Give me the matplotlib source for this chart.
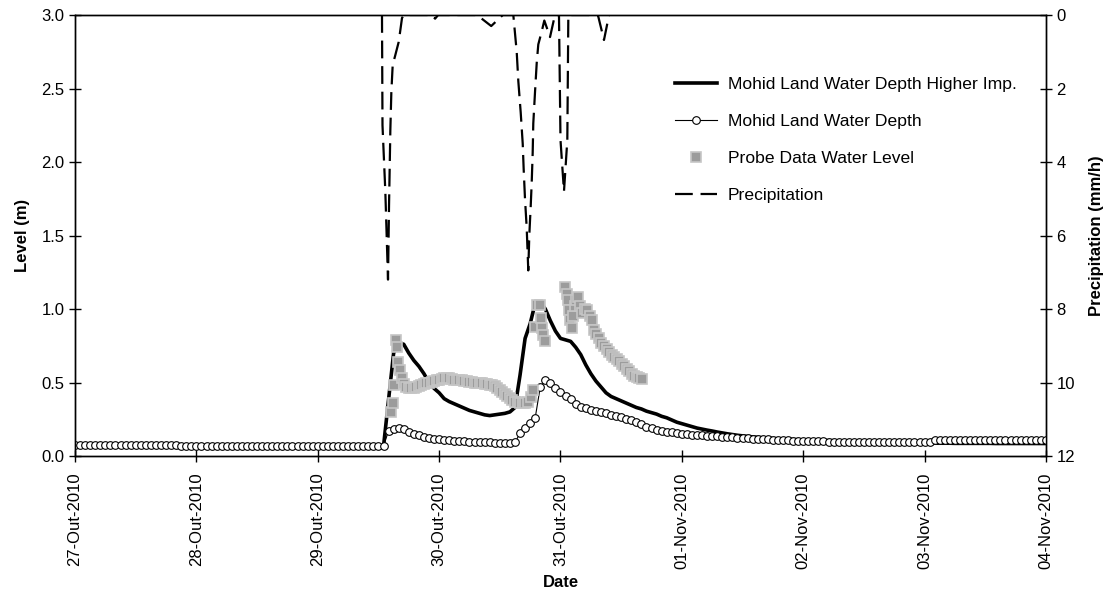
"""
Water level vs. precipitation, 27-Oct to 04-Nov 2010
"""

import matplotlib

matplotlib.use("Agg")
import matplotlib.pyplot as plt
import numpy as np
import pandas as pd
from matplotlib.lines import Line2D

plt.rcParams["font.family"] = ["Liberation Sans", "DejaVu Sans"]

# Time origin of the series
start = pd.Timestamp("2010-10-27 00:00")

day_labels = [
    "27-Out-2010", "28-Out-2010", "29-Out-2010", "30-Out-2010", "31-Out-2010",
    "01-Nov-2010", "02-Nov-2010", "03-Nov-2010", "04-Nov-2010",
]

# Hourly model output (m), one row per half day
depth_higher_imp = [
    0.075, 0.075, 0.075, 0.075, 0.075, 0.075, 0.075, 0.075, 0.075, 0.075, 0.075, 0.075,
    0.075, 0.075, 0.075, 0.075, 0.075, 0.075, 0.075, 0.075, 0.075, 0.07, 0.065, 0.065,
    0.065, 0.065, 0.065, 0.065, 0.065, 0.065, 0.065, 0.065, 0.065, 0.065, 0.065, 0.065,
    0.065, 0.065, 0.065, 0.065, 0.065, 0.065, 0.065, 0.065, 0.065, 0.065, 0.065, 0.065,
    0.065, 0.065, 0.065, 0.065, 0.065, 0.065, 0.065, 0.065, 0.065, 0.065, 0.065, 0.065,
    0.065, 0.065, 0.38, 0.70, 0.77, 0.76, 0.70, 0.65, 0.61, 0.56, 0.50, 0.46,
    0.43, 0.39, 0.37, 0.355, 0.34, 0.325, 0.31, 0.30, 0.29, 0.28, 0.275, 0.28,
    0.285, 0.29, 0.30, 0.33, 0.55, 0.80, 0.90, 1.04, 1.05, 1.00, 0.92, 0.85,
    0.80, 0.79, 0.78, 0.74, 0.69, 0.62, 0.56, 0.51, 0.47, 0.43, 0.405, 0.39,
    0.375, 0.36, 0.345, 0.33, 0.32, 0.305, 0.295, 0.285, 0.27, 0.26, 0.245, 0.23,
    0.22, 0.21, 0.20, 0.19, 0.183, 0.176, 0.17, 0.163, 0.157, 0.151, 0.146, 0.141,
    0.137, 0.133, 0.13, 0.127, 0.124, 0.121, 0.119, 0.117, 0.115, 0.113, 0.112, 0.111,
    0.110, 0.109, 0.108, 0.107, 0.106, 0.105, 0.104, 0.103, 0.102, 0.101, 0.100, 0.099,
    0.098, 0.097, 0.096, 0.095, 0.094, 0.093, 0.092, 0.091, 0.090, 0.089, 0.088, 0.087,
    0.087, 0.087, 0.087, 0.087, 0.087, 0.087, 0.086, 0.086, 0.086, 0.086, 0.086, 0.086,
    0.086, 0.086, 0.085, 0.085, 0.085, 0.085, 0.085, 0.085, 0.085, 0.085, 0.085, 0.085,
    0.085,
]

depth = [
    0.075, 0.075, 0.075, 0.075, 0.075, 0.075, 0.075, 0.075, 0.075, 0.075, 0.075, 0.075,
    0.075, 0.075, 0.075, 0.075, 0.075, 0.075, 0.075, 0.075, 0.075, 0.07, 0.065, 0.065,
    0.065, 0.065, 0.065, 0.065, 0.065, 0.065, 0.065, 0.065, 0.065, 0.065, 0.065, 0.065,
    0.065, 0.065, 0.065, 0.065, 0.065, 0.065, 0.065, 0.065, 0.065, 0.065, 0.065, 0.065,
    0.065, 0.065, 0.065, 0.065, 0.065, 0.065, 0.065, 0.065, 0.065, 0.065, 0.065, 0.065,
    0.065, 0.07, 0.17, 0.185, 0.19, 0.185, 0.16, 0.15, 0.14, 0.13, 0.12, 0.118,
    0.115, 0.11, 0.108, 0.105, 0.103, 0.10, 0.098, 0.097, 0.095, 0.093, 0.092, 0.09,
    0.09, 0.09, 0.09, 0.092, 0.155, 0.19, 0.225, 0.26, 0.47, 0.515, 0.50, 0.465,
    0.435, 0.41, 0.385, 0.355, 0.335, 0.325, 0.315, 0.305, 0.30, 0.29, 0.28, 0.275,
    0.265, 0.255, 0.245, 0.23, 0.215, 0.20, 0.19, 0.18, 0.172, 0.165, 0.16, 0.155,
    0.152, 0.149, 0.146, 0.143, 0.14, 0.138, 0.135, 0.133, 0.131, 0.129, 0.127, 0.125,
    0.123, 0.121, 0.119, 0.117, 0.115, 0.113, 0.111, 0.11, 0.108, 0.107, 0.105, 0.104,
    0.103, 0.102, 0.101, 0.10, 0.099, 0.098, 0.097, 0.097, 0.096, 0.096, 0.095, 0.095,
    0.095, 0.094, 0.094, 0.094, 0.093, 0.093, 0.093, 0.093, 0.093, 0.093, 0.093, 0.093,
    0.093, 0.093, 0.11, 0.11, 0.11, 0.11, 0.11, 0.11, 0.11, 0.11, 0.11, 0.11,
    0.11, 0.11, 0.11, 0.11, 0.11, 0.11, 0.11, 0.11, 0.11, 0.11, 0.11, 0.11,
    0.11,
]

# Probe readings: hours after start, level (m)
probe_hours = [
    62.5, 62.8, 63.0, 63.4, 63.6, 63.9, 64.2, 64.6, 65.0, 65.5, 66.0, 66.5,
    67.0, 67.5, 68.0, 68.5, 69.0, 69.5, 70.0, 70.5, 71.0, 71.5, 72.0, 72.5,
    73.0, 73.5, 74.0, 74.5, 75.0, 75.5, 76.0, 76.5, 77.0, 77.5, 78.0, 78.5,
    79.0, 79.5, 80.0, 80.5, 81.0, 81.5, 82.0, 82.5, 83.0, 83.5, 84.0, 84.5,
    85.0, 85.5, 86.0, 86.5, 87.0, 87.5, 88.0, 88.5, 89.0, 89.5, 90.2, 90.5,
    91.0, 91.4, 91.9, 92.1, 92.3, 92.6, 92.9,
    96.9, 97.2, 97.5, 97.7, 97.9, 98.2, 98.5, 98.8, 99.1, 99.5, 99.8, 100.3,
    100.8, 101.3, 101.8, 102.2, 102.6, 103.1, 103.6, 104.1, 104.6, 105.1, 105.6, 106.1,
    106.6, 107.1, 107.6, 108.1, 108.6, 109.1, 109.6, 110.1, 110.6, 111.1, 111.6, 112.1,
]
probe_level = [
    0.30, 0.36, 0.48, 0.79, 0.74, 0.64, 0.585, 0.53, 0.49, 0.47, 0.46, 0.46,
    0.465, 0.47, 0.475, 0.48, 0.49, 0.495, 0.50, 0.505, 0.51, 0.515, 0.52, 0.525,
    0.53, 0.53, 0.53, 0.525, 0.52, 0.52, 0.515, 0.515, 0.51, 0.51, 0.505, 0.505,
    0.50, 0.50, 0.495, 0.495, 0.49, 0.49, 0.485, 0.48, 0.475, 0.465, 0.45, 0.435,
    0.425, 0.41, 0.395, 0.38, 0.37, 0.365, 0.36, 0.36, 0.36, 0.365, 0.40, 0.45,
    0.88, 1.03, 1.03, 0.94, 0.87, 0.82, 0.78,
    1.15, 1.10, 1.06, 0.99, 0.925, 0.87, 0.95, 1.02, 1.06, 1.08, 1.02, 0.97,
    1.00, 0.99, 0.95, 0.925, 0.86, 0.83, 0.80, 0.77, 0.75, 0.73, 0.71, 0.69,
    0.675, 0.66, 0.645, 0.625, 0.61, 0.59, 0.575, 0.56, 0.545, 0.535, 0.53, 0.525,
]

# Precipitation: hours after start, intensity (mm/h)
precip_hours = [
    60.7, 60.8, 61.36, 61.89, 62.09, 62.35, 62.55, 62.82, 63.28, 64.01, 64.66, 65.06,
    70.6, 71.2, 71.8, 79.5, 82.3, 84.6,
    86.67, 87.34, 87.66, 88.13, 88.53, 88.72, 88.98, 89.32, 89.63, 89.83, 90.11, 90.31,
    90.5, 90.62, 90.96, 91.3, 91.61, 92.28, 92.8, 93.93, 94.9,
    95.7, 96.0, 96.69, 97.35, 97.55, 103.4, 104.6, 105.6,
]
precip = [
    0.0, 3.0, 4.8, 7.2, 5.2, 3.15, 2.1, 1.35, 1.12, 0.73, 0.08, 0.0,
    0.0, 0.1, 0.0, 0.0, 0.3, 0.0,
    0.0, 1.0, 1.8, 2.65, 3.5, 4.2, 5.0, 5.8, 6.95, 6.0, 5.2, 4.55,
    3.75, 2.95, 2.1, 1.3, 0.8, 0.45, 0.15, 0.6, 0.0,
    0.0, 3.4, 4.8, 3.4, 0.0, 0.0, 0.68, 0.0,
]


def hours_to_dates(hours):
    return (start + pd.to_timedelta(np.asarray(hours, dtype=float), unit="h")).to_numpy()


model_times = hours_to_dates(np.arange(len(depth)))
probe_times = hours_to_dates(probe_hours)
precip_times = hours_to_dates(precip_hours)
day_ticks = pd.date_range(start, periods=len(day_labels), freq="D").to_numpy()

fig = plt.figure(figsize=(11.1, 5.96), dpi=100)
ax = fig.add_axes([0.0676, 0.2349, 0.8747, 0.7399])

circle_style = dict(marker="o", markersize=5.5, markerfacecolor="white",
                    markeredgecolor="black", markeredgewidth=0.8)
square_style = dict(linestyle="none", marker="s", markersize=6.5,
                    markerfacecolor="#9c9c9c", markeredgecolor="#c6c6c6",
                    markeredgewidth=1.2)
dash_style = dict(color="black", linewidth=1.6, linestyle=(0, (8, 3.5)))

ax.plot(model_times, depth_higher_imp, color="black", linewidth=2.6, zorder=2)
ax.plot(model_times, depth, color="black", linewidth=0.8, zorder=3, **circle_style)
ax.plot(probe_times, probe_level, zorder=4, **square_style)

ax.set_xlim(day_ticks[0], day_ticks[-1])
ax.set_ylim(0, 3.0)
ax.set_yticks(np.arange(0, 3.01, 0.5))
ax.set_yticklabels([f"{v:.1f}" for v in np.arange(0, 3.01, 0.5)])
ax.set_xticks(day_ticks)
ax.set_xticklabels(day_labels, rotation=90)
ax.tick_params(direction="inout", length=8, width=1, labelsize=12)
ax.tick_params(axis="x", pad=8)
ax.set_ylabel("Level (m)", fontsize=12, fontweight="bold", labelpad=8)
ax.set_xlabel("Date", fontsize=12, fontweight="bold", labelpad=4)

ax2 = ax.twinx()
ax2.plot(precip_times, precip, zorder=2, **dash_style)
ax2.set_ylim(12, 0)
ax2.set_yticks(np.arange(0, 13, 2))
ax2.tick_params(direction="inout", length=8, width=1, labelsize=12)
ax2.set_ylabel("Precipitation (mm/h)", fontsize=12, fontweight="bold", labelpad=10)
ax2.set_xlim(day_ticks[0], day_ticks[-1])

for spine in list(ax.spines.values()) + list(ax2.spines.values()):
    spine.set_linewidth(1.0)

handles = [
    Line2D([], [], color="black", linewidth=2.6),
    Line2D([], [], color="black", linewidth=0.8, **circle_style),
    Line2D([], [], **square_style),
    Line2D([], [], **dash_style),
]
labels = [
    "Mohid Land Water Depth Higher Imp.",
    "Mohid Land Water Depth",
    "Probe Data Water Level",
    "Precipitation",
]
ax2.legend(handles, labels, loc="upper left", bbox_to_anchor=(0.618, 0.86),
           frameon=False, fontsize=12.6, handlelength=2.4, handletextpad=0.6,
           labelspacing=1.25, borderaxespad=0, borderpad=0, numpoints=1)

plt.savefig("out.png", dpi=100)
print("Saved plot to: out.png")
